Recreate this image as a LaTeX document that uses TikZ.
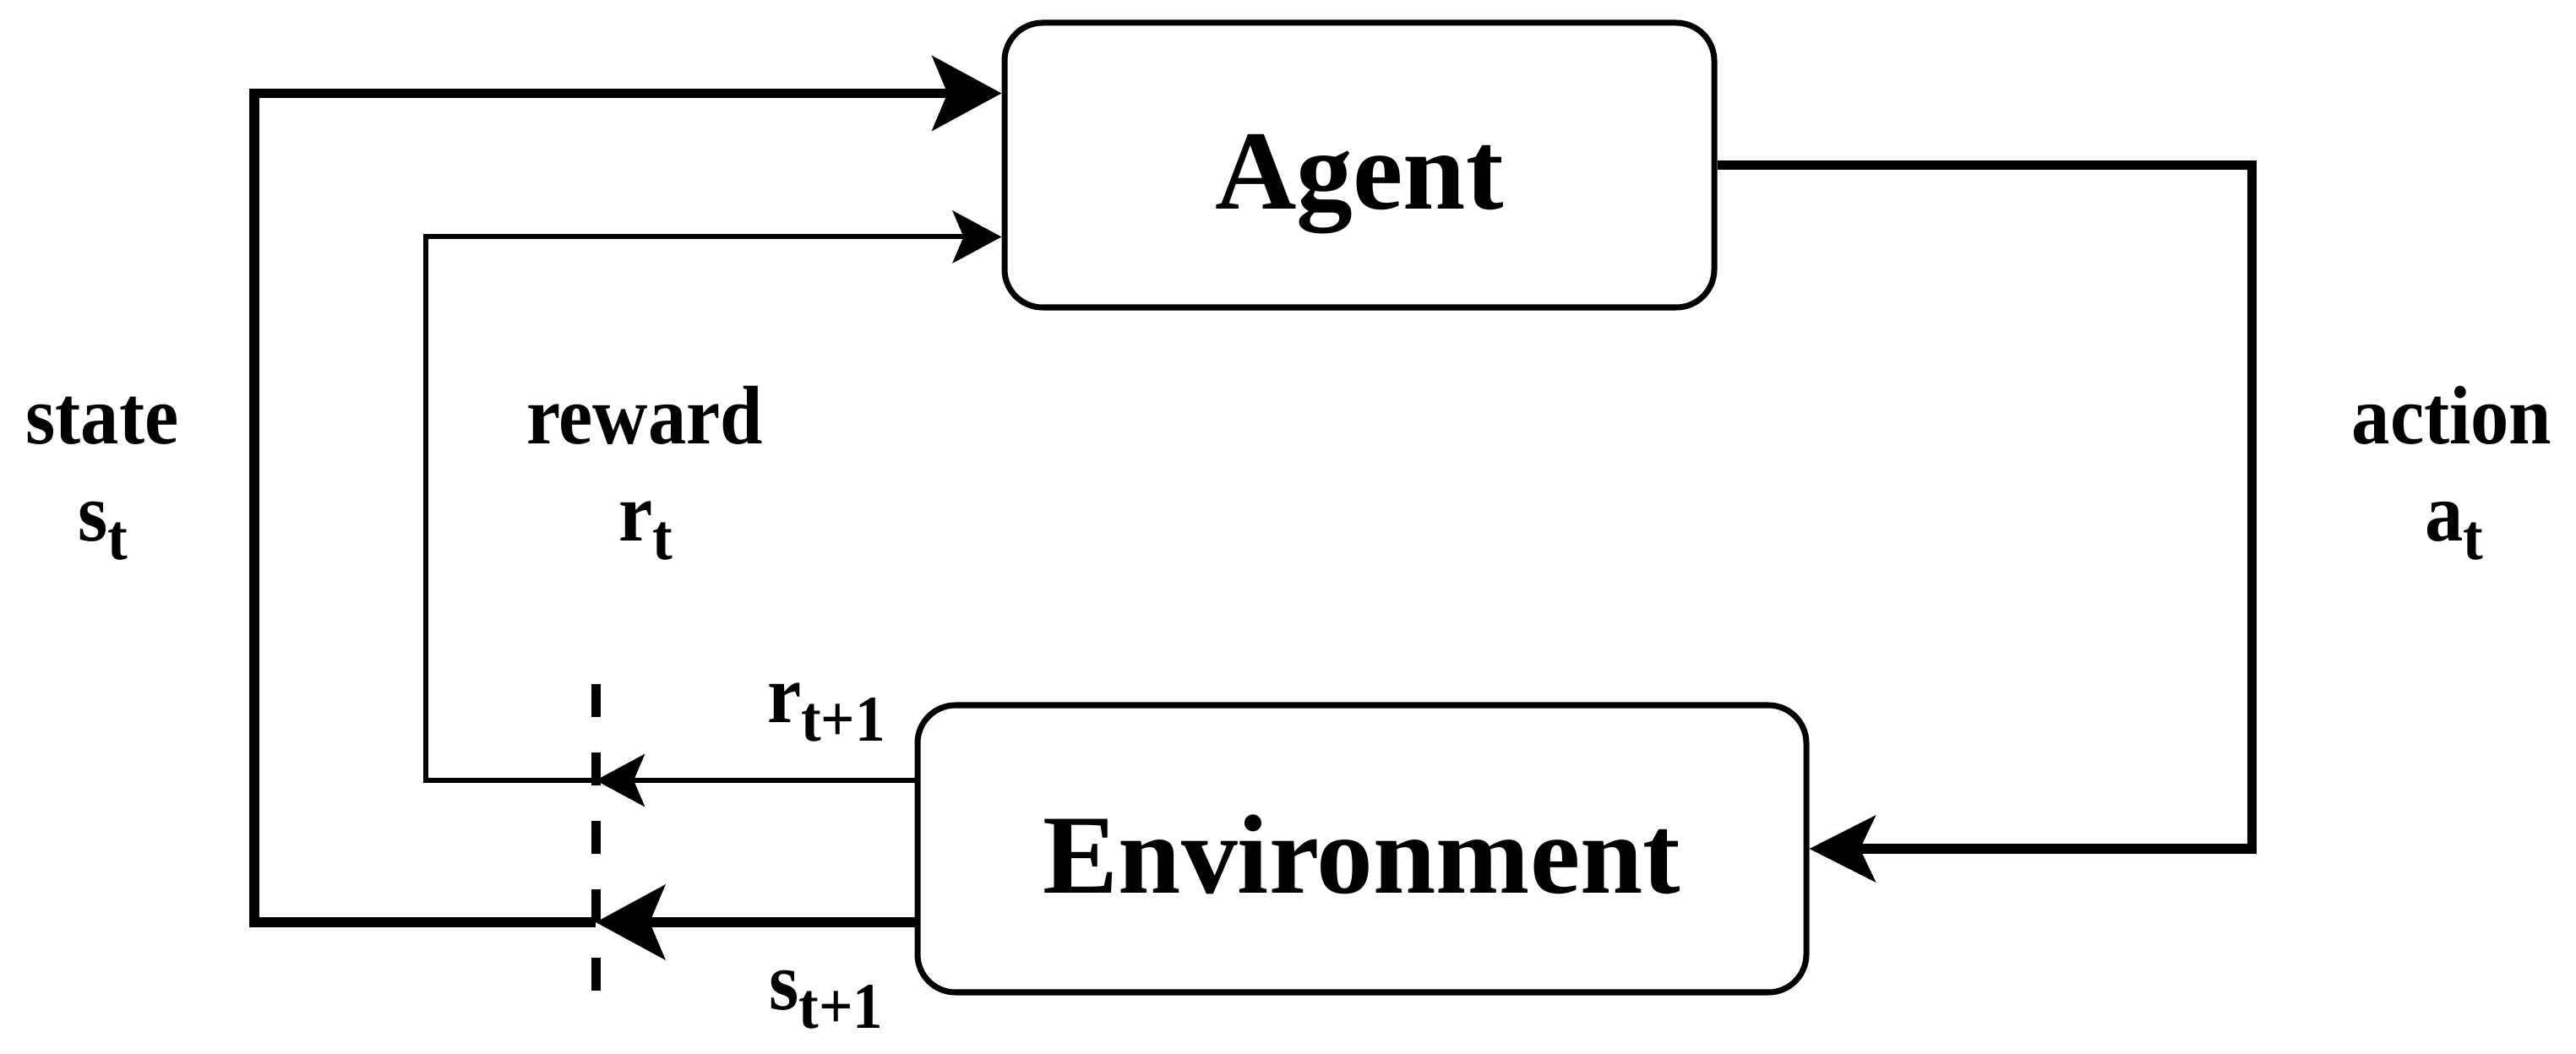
\documentclass[tikz,border=0pt]{standalone}
\usepackage{fontspec}
\setmainfont{Liberation Serif}
\newfontfamily\labfont{Liberation Serif}[FakeStretch=0.92]
\usetikzlibrary{arrows.meta,positioning}
\tikzstyle{every block} = []
\tikzstyle{block} = [draw, rounded corners=0.45cm, line width=2pt, text height=1.05cm, text depth=0pt, font=\fontsize{38}{40}\selectfont\bfseries, every block]
\tikzstyle{lab} = [anchor=base, inner sep=0pt, font=\labfont\bfseries\fontsize{28}{30}\selectfont]
\tikzstyle{thickflow} = [line width=0.115cm]
\tikzstyle{thinflow} = [line width=0.06cm]
\tikzset{bigtip/.tip={Stealth[length=8.2mm, width=8.8mm, inset=1.8mm]},
         smalltip/.tip={Stealth[length=5.8mm, width=6.2mm, inset=1.3mm]},
         acttip/.tip={Stealth[length=7.8mm, width=7.8mm, inset=1.8mm]}}
\newcommand{\lowsub}[1]{\raisebox{-0.22cm}{\fontsize{22}{24}\selectfont #1}}

\begin{document}
\begin{tikzpicture}
    \useasboundingbox (0,0) rectangle (30.49,12.47);

    \node[block, minimum width=8.40cm, minimum height=3.37cm] (agent) at (16.09,10.515) {Agent};
    \node[block, minimum width=10.52cm, minimum height=3.40cm] (env) at (16.12,2.42) {Environment};

    % dashed time step line
    \coordinate (dtop) at (7.05,4.37);
    \coordinate (dbot) at (7.05,0.74);
    \draw[line width=0.11cm, dash pattern=on 0.39cm off 0.42cm] (dtop) -- (dbot);

    \coordinate (sjoin) at (7.05,1.55);
    \coordinate (rjoin) at (7.05,3.23);
    \coordinate (scorner) at (3.01,1.55);
    \coordinate (rcorner) at (5.04,3.23);

    % state
    \draw[thickflow, -{bigtip}] (env.west |- sjoin) -- (sjoin);
    \draw[thickflow, -{bigtip}] (sjoin) -- (scorner) |- ([yshift=0.85cm]agent.west);
    % reward
    \draw[thinflow, -{smalltip}] (env.west |- rjoin) -- (rjoin);
    \draw[thinflow, -{smalltip}] (rjoin) -- (rcorner) |- ([yshift=-0.85cm]agent.west);
    % action
    \draw[thickflow, -{acttip}] (agent.east) -- ++(6.33,0) |- (env.east);

    \node[lab] (statelab) at (1.21,7.21) {state};
    \node[lab] (stlab) at (1.22,6.06) {s\lowsub{t}};
    \node[lab] (rewardlab) at (7.63,7.21) {reward};
    \node[lab] (rtlab) at (7.64,6.06) {r\lowsub{t}};
    \node[lab] (actionlab) at (29.02,7.21) {action};
    \node[lab] (atlab) at (29.05,6.06) {a\lowsub{t}};
    \node[lab] (rnextlab) at (9.78,3.91) {r\lowsub{t+1}};
    \node[lab] (snextlab) at (9.78,0.52) {s\lowsub{t+1}};
\end{tikzpicture}
\end{document}
